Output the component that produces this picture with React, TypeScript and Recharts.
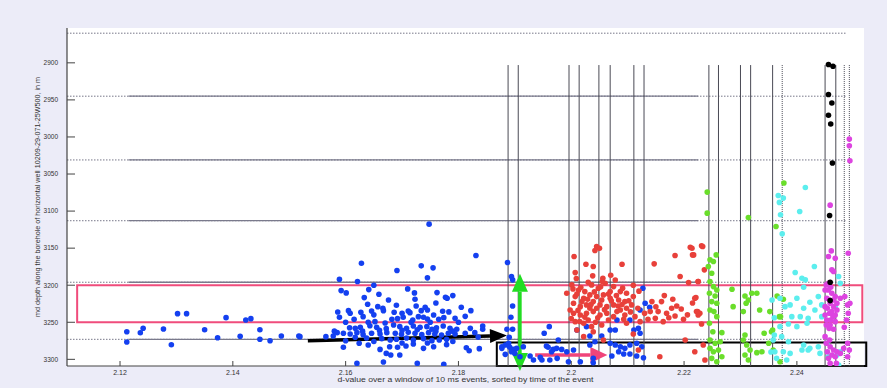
import React from "react";
import {
  ScatterChart,
  Scatter,
  XAxis,
  YAxis,
  CartesianGrid,
  ReferenceLine,
  ReferenceArea,
  Label,
} from "recharts";

// x = d-value, y = md depth (m)
const BLUE: Array<[number, number]> = [
  [2.1212, 3262.7], [2.1212, 3276.6], [2.1236, 3264.1], [2.1241, 3258.1], [2.1277, 3259.1],
  [2.1291, 3280.3], [2.1302, 3238.4], [2.1318, 3238.4], [2.135, 3260], [2.1373, 3270.8],
  [2.1388, 3243.8], [2.1413, 3268.9], [2.1423, 3246.9], [2.1432, 3245.1], [2.1448, 3260],
  [2.1448, 3273], [2.1466, 3274.9], [2.1486, 3268.5], [2.1517, 3268.5],
  [2.1748, 3117.6], [2.1831, 3160], [2.1628, 3170.3], [2.1691, 3180.2], [2.1734, 3173.9],
  [2.1755, 3176.6], [2.1745, 3190.1], [2.1589, 3192], [2.1621, 3195.1], [2.1887, 3169.4],
  [2.1592, 3207.3], [2.1601, 3210.4], [2.1641, 3205.9], [2.1659, 3212.2], [2.1633, 3216.7],
  [2.1676, 3219.9], [2.1722, 3210.4], [2.1723, 3219], [2.1777, 3216.3], [2.178, 3217.6],
  [2.179, 3214], [2.1639, 3225.7], [2.1657, 3228.9], [2.1666, 3231.1], [2.1667, 3234.3],
  [2.1586, 3236.1], [2.1605, 3234.3], [2.1608, 3237.9], [2.1627, 3236.5], [2.1646, 3234.7],
  [2.1686, 3236.5], [2.1711, 3234.7], [2.1714, 3237], [2.1734, 3234.3], [2.1741, 3229.8],
  [2.1745, 3233.4], [2.1756, 3240.2], [2.1772, 3235.2], [2.1805, 3229.8], [2.1822, 3234.3],
  [2.1589, 3243.3], [2.1631, 3242.4], [2.164, 3250.1], [2.1652, 3249.2], [2.1682, 3246],
  [2.1692, 3245.1], [2.1702, 3243.3], [2.1719, 3246.9], [2.1729, 3242.4], [2.1738, 3243.3],
  [2.1745, 3245.6], [2.1774, 3243.8], [2.1794, 3244.7], [2.1607, 3257.3], [2.1617, 3258.2],
  [2.1626, 3256.8], [2.1643, 3254.6], [2.1655, 3256.8], [2.1672, 3258.6], [2.1685, 3253.7],
  [2.1696, 3255.9], [2.1708, 3258.2], [2.172, 3255], [2.1732, 3256.8], [2.1744, 3255.9],
  [2.1753, 3259.5], [2.1761, 3257.3], [2.1773, 3255], [2.1785, 3258.2], [2.1797, 3259.5],
  [2.1821, 3258.2], [2.1843, 3255], [2.1843, 3259.5], [2.1585, 3264], [2.1596, 3264.9],
  [2.1608, 3265.8], [2.162, 3264], [2.1631, 3266.7], [2.1646, 3264.9], [2.1661, 3265.8],
  [2.1673, 3264], [2.1688, 3264.9], [2.1699, 3266.3], [2.1711, 3263.6], [2.1723, 3264.9],
  [2.1735, 3266.7], [2.1747, 3264], [2.1758, 3265.8], [2.177, 3267.2], [2.1782, 3264.9],
  [2.1794, 3265.8], [2.1812, 3264.9], [2.1829, 3264], [2.1565, 3269.4], [2.1578, 3268.5],
  [2.1617, 3270.3], [2.1637, 3271.2], [2.1664, 3272.1], [2.1679, 3273.9], [2.169, 3273],
  [2.1708, 3271.2], [2.172, 3273.9], [2.1738, 3272.1], [2.1753, 3274.8], [2.1766, 3273.9],
  [2.1779, 3273], [2.1596, 3283.8], [2.1624, 3278.4], [2.164, 3280.7], [2.1661, 3286.6],
  [2.1678, 3283], [2.1692, 3283.8], [2.1707, 3282], [2.172, 3279.3], [2.1738, 3285.2],
  [2.1756, 3283], [2.1779, 3280.2], [2.1814, 3284.3], [2.1819, 3288.4], [2.1837, 3285.6],
  [2.1672, 3292], [2.168, 3294.2], [2.1696, 3294.2], [2.1667, 3303.7], [2.162, 3305.5],
  [2.1727, 3305.5], [2.1774, 3306.8], [2.1519, 3269.4], [2.1877, 3285.2], [2.1883, 3293.3],
  [2.1889, 3278.4],
  [2.16, 3250], [2.1615, 3246], [2.165, 3240], [2.167, 3251], [2.17, 3238],
  [2.1716, 3250], [2.1725, 3228], [2.175, 3250], [2.1765, 3246], [2.1783, 3236],
  [2.18, 3250], [2.1812, 3242], [2.163, 3262], [2.166, 3261], [2.17, 3261],
  [2.1727, 3260], [2.176, 3262], [2.179, 3262], [2.1835, 3270], [2.165, 3276],
  [2.17, 3278], [2.1745, 3278], [2.179, 3276], [2.16, 3275], [2.158, 3262],
  [2.169, 3227], [2.176, 3224], [2.171, 3205], [2.165, 3200], [2.1762, 3210],
  [2.1894, 3188.3], [2.1896, 3192.8], [2.1896, 3228], [2.1893, 3243.3], [2.1886, 3259.5],
  [2.1896, 3259.5], [2.189, 3270.3], [2.1877, 3283], [2.1883, 3280.7], [2.1891, 3283.8],
  [2.1897, 3286.6], [2.1903, 3285.2], [2.1894, 3289.7], [2.19, 3292], [2.1915, 3283],
  [2.1961, 3255.9], [2.1952, 3264.9], [2.1977, 3273.9], [2.1959, 3283.8], [2.1968, 3286.6],
  [2.1983, 3286.6], [2.1992, 3289.7], [2.2004, 3287.4], [2.1965, 3289.7], [2.201, 3260.4],
  [2.2027, 3255.9], [2.2042, 3276.2], [2.2033, 3280.7], [2.1909, 3296.5], [2.1927, 3295.5],
  [2.1945, 3297.4],
  [2.1956, 3282], [2.1974, 3285.2], [2.1933, 3300.9], [2.1948, 3300.9], [2.1962, 3300.9],
  [2.1975, 3298.7], [2.1995, 3303.2], [2.2016, 3303.2], [2.2039, 3304.6],
  [2.2127, 3204.1], [2.2131, 3224.4], [2.2122, 3233.4], [2.2139, 3229.8], [2.2081, 3246.9],
  [2.2104, 3246.9], [2.2069, 3260.4], [2.2078, 3260.4], [2.2119, 3258.2], [2.2033, 3268.5],
  [2.2054, 3268.5], [2.2069, 3278.4], [2.2078, 3280.7], [2.2087, 3283], [2.2095, 3285.2],
  [2.2104, 3280.7], [2.2116, 3278.4], [2.2125, 3283], [2.2084, 3289.7], [2.2093, 3292.9],
  [2.2104, 3292.9], [2.2116, 3295.6], [2.2072, 3295.6], [2.2128, 3297.8], [2.2039, 3298.7],
  [2.2122, 3264.9], [2.2111, 3260.4],
];

const RED: Array<[number, number]> = [
  [2.2045, 3147.8], [2.205, 3150.1], [2.2042, 3153.2], [2.2005, 3161.3], [2.2026, 3171.7],
  [2.2039, 3174.8], [2.209, 3171.7], [2.2147, 3171.2], [2.2184, 3160], [2.2211, 3148.7],
  [2.2231, 3146.9], [2.2215, 3159.1], [2.2007, 3183], [2.2038, 3187.4], [2.2056, 3190.6],
  [2.207, 3186.5], [2.2225, 3195.1], [2.2208, 3196.5], [2.2193, 3188.3],
  [2.2001, 3199.6], [2.2013, 3206.4], [2.2024, 3208.6], [2.2036, 3199.6], [2.2048, 3204.1],
  [2.206, 3197.4], [2.2075, 3201.9], [2.2087, 3208.6], [2.2098, 3210.9], [2.2007, 3215.4],
  [2.2022, 3217.6], [2.2033, 3213.1], [2.2045, 3215.4], [2.2057, 3213.1], [2.2069, 3217.6],
  [2.2084, 3219.9], [2.2095, 3222.1], [2.211, 3215.4], [2.2004, 3224.4], [2.2016, 3228.9],
  [2.2027, 3226.6], [2.2039, 3222.1], [2.2051, 3226.6], [2.2063, 3228.9], [2.2075, 3226.6],
  [2.2087, 3233.4], [2.2098, 3231.1], [2.2107, 3226.6], [2.2143, 3222.1], [2.216, 3222.1],
  [2.2178, 3231.1], [2.2187, 3228], [2.2004, 3237.9], [2.2016, 3240.2], [2.2027, 3237.9],
  [2.2039, 3235.6], [2.2051, 3240.2], [2.2063, 3237.9], [2.2075, 3242.4], [2.2095, 3240.2],
  [2.2113, 3242.4], [2.214, 3235.6], [2.2154, 3235.6], [2.2169, 3237.9], [2.2184, 3241.5],
  [2.2199, 3246], [2.2222, 3235.6], [2.2225, 3240.2], [2.2007, 3249.2], [2.2022, 3251.4],
  [2.2036, 3255.9], [2.2054, 3253.7], [2.2098, 3251.4], [2.2122, 3249.2], [2.2149, 3244.7],
  [2.2163, 3249.2], [2.2219, 3217.6], [2.201, 3260.4], [2.2022, 3269.4], [2.2039, 3262.7],
  [2.2057, 3273.9], [2.211, 3265.8], [2.2119, 3287.4], [2.2157, 3296.5], [2.2202, 3273.9],
  [2.1992, 3210.9], [2.1998, 3233.4], [2.2033, 3231.1], [2.2045, 3231.1], [2.2019, 3222.1],
  [2.2069, 3208.6], [2.2054, 3219.9], [2.203, 3246.9], [2.2081, 3235.6],
  [2.2003, 3205], [2.201, 3212], [2.2017, 3203], [2.2029, 3219], [2.2041, 3209],
  [2.2052, 3202], [2.2066, 3212], [2.208, 3214], [2.2091, 3204], [2.2102, 3221],
  [2.2012, 3234], [2.2024, 3243], [2.2035, 3226], [2.2047, 3244], [2.2059, 3233],
  [2.2071, 3221], [2.2083, 3228], [2.2093, 3246], [2.2105, 3236], [2.2118, 3231],
  [2.2, 3245], [2.2015, 3249], [2.2043, 3250], [2.2066, 3247], [2.209, 3226],
  [2.213, 3238], [2.2136, 3246], [2.215, 3229], [2.2173, 3244], [2.2195, 3232],
  [2.2206, 3240], [2.2165, 3214], [2.212, 3208], [2.2055, 3195], [2.203, 3196],
  [2.2078, 3193], [2.211, 3200], [2.2009, 3191], [2.218, 3219], [2.2215, 3224],
  [2.2214, 3150.1], [2.2217, 3159.1], [2.2233, 3147.8], [2.2236, 3179.3], [2.2225, 3195.1],
  [2.2221, 3216.7], [2.2224, 3235.6], [2.2228, 3237.9], [2.2231, 3252.3], [2.2234, 3280.7],
  [2.2219, 3289.7], [2.2237, 3301],
];

const GREEN: Array<[number, number]> = [
  [2.2241, 3074.4], [2.2241, 3102.8], [2.2314, 3108.6], [2.2257, 3159.1], [2.2246, 3165.8],
  [2.2252, 3168.1], [2.2243, 3174.8], [2.2249, 3183.8], [2.2246, 3195.1], [2.2252, 3201.9],
  [2.2258, 3206.4], [2.2245, 3210.9], [2.2255, 3214.5], [2.2249, 3222.1], [2.2258, 3224.4],
  [2.2246, 3233.4], [2.2253, 3235.6], [2.2258, 3242.4], [2.2245, 3251.4], [2.2267, 3264],
  [2.2251, 3262.7], [2.2285, 3205.5], [2.2287, 3228.9], [2.2308, 3214.5], [2.2314, 3219.9],
  [2.231, 3224.4], [2.2305, 3235.6], [2.232, 3210.9], [2.2329, 3210.9], [2.2334, 3233.4],
  [2.2352, 3235.6], [2.2355, 3262.7], [2.2342, 3264.9], [2.2308, 3267.2], [2.2246, 3273.9],
  [2.2255, 3278.4], [2.2264, 3276.2], [2.2246, 3285.2], [2.2252, 3289.7], [2.2261, 3287.4],
  [2.2267, 3296.5], [2.2249, 3298.7], [2.2258, 3303.2], [2.2305, 3273.9], [2.2311, 3280.7],
  [2.2317, 3287.4], [2.2308, 3294.2], [2.2314, 3300.9], [2.2329, 3291], [2.2338, 3289.7],
  [2.235, 3278.4], [2.2358, 3287.4],
  [2.2377, 3062.2], [2.2363, 3120.8], [2.2365, 3214.5], [2.2376, 3218.9], [2.2369, 3242.4],
  [2.2371, 3242.4], [2.2357, 3260.4], [2.237, 3303.2],
];

const CYAN: Array<[number, number]> = [
  [2.2415, 3068.1], [2.2367, 3078.9], [2.2376, 3082.5], [2.2369, 3088.3], [2.2405, 3100.5],
  [2.2371, 3105], [2.2374, 3130.7], [2.2397, 3182.9], [2.2409, 3190.6], [2.2431, 3174.8],
  [2.2415, 3192.8], [2.2412, 3202.8], [2.237, 3217.6], [2.24, 3217.6], [2.2388, 3226.6],
  [2.2379, 3228.9], [2.2412, 3231.1], [2.2423, 3223], [2.2438, 3215.4], [2.2444, 3226.6],
  [2.2432, 3233.4], [2.2391, 3242.4], [2.2406, 3242.4], [2.242, 3244.7], [2.2444, 3242.4],
  [2.2468, 3228.9], [2.2474, 3188.3], [2.2477, 3197.4], [2.237, 3255.9], [2.2385, 3252.3],
  [2.24, 3255.9], [2.2418, 3251.4], [2.2358, 3273.9], [2.2373, 3269.4], [2.2385, 3276.2],
  [2.2412, 3280.7], [2.2423, 3285.2], [2.2438, 3283], [2.2453, 3278.4], [2.2361, 3289.7],
  [2.2376, 3289.7], [2.2388, 3292], [2.2409, 3287.4], [2.242, 3287.4], [2.2441, 3292],
  [2.2456, 3296.5], [2.2471, 3294.2], [2.2477, 3289.7], [2.2364, 3298.7], [2.2382, 3300.9],
  [2.2474, 3307.7], [2.2356, 3219.9], [2.236, 3267.2], [2.2354, 3290.2], [2.236, 3244],
];

const MAGENTA: Array<[number, number]> = [
  [2.2493, 3002.8], [2.2493, 3011.8], [2.2494, 3032], [2.2459, 3092], [2.2461, 3153.7],
  [2.2491, 3156.8], [2.2456, 3161.3], [2.2468, 3163.6], [2.2462, 3179.3], [2.2465, 3181.6],
  [2.2452, 3199.6], [2.2456, 3206.4], [2.2462, 3210.9], [2.2468, 3215.4], [2.2453, 3217.6],
  [2.2459, 3224.4], [2.2465, 3228.9], [2.2454, 3231.1], [2.2471, 3233.4], [2.2458, 3237.9],
  [2.2464, 3242.4], [2.2453, 3246.9], [2.2468, 3249.2], [2.2459, 3253.7], [2.2457, 3258.2],
  [2.2477, 3217.6], [2.2485, 3215.4], [2.249, 3226.6], [2.2491, 3237.9], [2.2488, 3246.9],
  [2.2484, 3256.8], [2.2494, 3224.4], [2.245, 3206.4], [2.246, 3202.8], [2.2465, 3219.9],
  [2.2458, 3219.9], [2.245, 3228.9], [2.2462, 3235.6], [2.245, 3240.2], [2.246, 3246.9],
  [2.2468, 3240.2], [2.2452, 3253.7], [2.2465, 3259.5], [2.2471, 3224.4], [2.2456, 3197.4],
  [2.245, 3269.4], [2.2458, 3273.9], [2.2454, 3289.7],
  [2.2452, 3278.4], [2.2459, 3283], [2.2465, 3287.4], [2.2471, 3289.7], [2.2462, 3294.2],
  [2.2456, 3298.7], [2.2468, 3296.5], [2.2477, 3292], [2.2483, 3285.2], [2.249, 3278.4],
  [2.2493, 3287.4], [2.249, 3296.5], [2.2459, 3305.5], [2.247, 3305.5],
];

const BLACK: Array<[number, number]> = [
  [2.2456, 2902.3], [2.2464, 2904.6], [2.2456, 2942.8], [2.2462, 2954.1], [2.2456, 2970.8],
  [2.246, 2982.5], [2.2463, 3035.2], [2.2458, 3105.9], [2.2459, 3196], [2.2459, 3220.8],
];

// stage boundaries (depth) and time markers (d-value)
const STAGE_DEPTHS = [2945, 3031, 3113, 3196, 3273];
const TOP_DEPTH = 2860;
const TIME_MARKS = [
  2.1888, 2.1906, 2.1996, 2.2014, 2.2049, 2.2069, 2.2111, 2.2129, 2.2244,
  2.2261, 2.23, 2.2318, 2.2357, 2.2374, 2.245, 2.2469, 2.2484, 2.2493,
];
const DOTTED_MARKS = [2.2374, 2.2484, 2.2493];

const X_TICKS = [2.12, 2.14, 2.16, 2.18, 2.2, 2.22, 2.24];
const Y_TICKS = [2900, 2950, 3000, 3050, 3100, 3150, 3200, 3250, 3300];

const X_DOMAIN: [number, number] = [2.1106, 2.2519];
const Y_DOMAIN: [number, number] = [2853, 3309];

const toPts = (a: Array<[number, number]>) => a.map(([x, y]) => ({ x, y }));

const SERIES = [
  { name: "s1", color: "#1440f0", data: toPts(BLUE) },
  { name: "s2", color: "#e8403a", data: toPts(RED) },
  { name: "s3", color: "#6ade2a", data: toPts(GREEN) },
  { name: "s4", color: "#5ceeee", data: toPts(CYAN) },
  { name: "s5", color: "#dd44e0", data: toPts(MAGENTA) },
  { name: "s6", color: "#000000", data: toPts(BLACK) },
];

const fmtX = (v: number) => String(Number(v.toFixed(2)));

const XTick = (props: any) => {
  const { x, y, payload } = props;
  return (
    <g>
      <line x1={x} x2={x} y1={y} y2={y - 5} stroke="#444" />
      <text x={x} y={y + 9} textAnchor="middle" fontSize={7} fill="#333">
        {fmtX(payload.value)}
      </text>
    </g>
  );
};

const YTick = (props: any) => {
  const { x, y, payload } = props;
  return (
    <g>
      <line x1={x} x2={x + 8} y1={y} y2={y} stroke="#444" />
      <text x={x - 9} y={y + 2.3} textAnchor="end" fontSize={6.5} fill="#333">
        {payload.value}
      </text>
    </g>
  );
};

const arrowShape =
  (color: string, width: number, headLen: number, headHalf: number, both: boolean) =>
  (p: any) => {
    const { x1, y1, x2, y2 } = p;
    if ([x1, y1, x2, y2].some((v) => typeof v !== "number" || isNaN(v))) return <g />;
    const L = Math.hypot(x2 - x1, y2 - y1);
    const ux = (x2 - x1) / L;
    const uy = (y2 - y1) / L;
    const nx = -uy;
    const ny = ux;
    const head = (tx: number, ty: number, dx: number, dy: number) => {
      const bx = tx - dx * headLen;
      const by = ty - dy * headLen;
      return `${tx},${ty} ${bx + nx * headHalf},${by + ny * headHalf} ${bx - nx * headHalf},${by - ny * headHalf}`;
    };
    const sx = both ? x1 + ux * headLen : x1;
    const sy = both ? y1 + uy * headLen : y1;
    return (
      <g>
        <line
          x1={sx}
          y1={sy}
          x2={x2 - ux * headLen}
          y2={y2 - uy * headLen}
          stroke={color}
          strokeWidth={width}
        />
        <polygon points={head(x2, y2, ux, uy)} fill={color} />
        {both && <polygon points={head(x1, y1, -ux, -uy)} fill={color} />}
      </g>
    );
  };

const dot = (color: string) => (p: any) =>
  <circle cx={p.cx} cy={p.cy} r={2.8} fill={color} />;

export default function App() {
  return (
    <div
      style={{
        position: "absolute",
        left: 0,
        top: 0,
        width: 887,
        height: 388,
        background: "#ececf8",
        fontFamily: "'Liberation Sans', Arial, sans-serif",
      }}
    >
      <ScatterChart width={887} height={388} margin={{ top: 28, right: 23, bottom: 0, left: 0 }}>
        <CartesianGrid horizontal={false} vertical={false} fill="#ffffff" stroke="none" />
        <XAxis
          type="number"
          dataKey="x"
          domain={X_DOMAIN}
          ticks={X_TICKS}
          allowDataOverflow
          height={22}
          tickSize={0}
          tickMargin={0}
          tick={<XTick />}
          axisLine={{ stroke: "#444", strokeWidth: 1.2 }}
        >
          <Label
            content={() => (
              <text
                x={465.5}
                y={382}
                textAnchor="middle"
                fontSize={7}
                fill="#333"
                textLength={256}
                lengthAdjust="spacingAndGlyphs"
              >
                d-value over a window of 10 ms events, sorted by time of the event
              </text>
            )}
          />
        </XAxis>
        <YAxis
          type="number"
          dataKey="y"
          reversed
          domain={Y_DOMAIN}
          ticks={Y_TICKS}
          allowDataOverflow
          width={67}
          tickSize={0}
          tickMargin={0}
          tick={<YTick />}
          axisLine={{ stroke: "#444", strokeWidth: 1.2 }}
        >
          <Label
            content={() => (
              <text
                x={0}
                y={0}
                transform="translate(40,197) rotate(-90)"
                textAnchor="middle"
                fontSize={6.5}
                fill="#333"
                textLength={240}
                lengthAdjust="spacingAndGlyphs"
              >
                md depth along the borehole of horizontal well 10209-29-071-25W500, in m
              </text>
            )}
          />
        </YAxis>

        <ReferenceLine
          segment={[{ x: 2.1106, y: TOP_DEPTH }, { x: 2.2487, y: TOP_DEPTH }]}
          stroke="#777788"
          strokeDasharray="1.5 1.5"
          ifOverflow="visible"
        />
        {STAGE_DEPTHS.map((d) => (
          <ReferenceLine
            key={`hd-${d}`}
            segment={[{ x: 2.1106, y: d }, { x: 2.2487, y: d }]}
            stroke="#777788"
            strokeDasharray="1.5 1.5"
          />
        ))}
        {STAGE_DEPTHS.map((d) => (
          <ReferenceLine
            key={`hs-${d}`}
            segment={[{ x: 2.1215, y: d }, { x: 2.2225, y: d }]}
            stroke="#7a7a8c"
            strokeWidth={1.3}
          />
        ))}
        {TIME_MARKS.map((t) => (
          <ReferenceLine
            key={`v-${t}`}
            segment={[{ x: t, y: 2903 }, { x: t, y: 3309 }]}
            stroke="#4a4a55"
            strokeDasharray={DOTTED_MARKS.includes(t) ? "1 1" : undefined}
          />
        ))}

        {SERIES.map((s) => (
          <Scatter
            key={s.name}
            name={s.name}
            data={s.data}
            fill={s.color}
            shape={dot(s.color)}
            isAnimationActive={false}
          />
        ))}

        <ReferenceArea
          x1={2.1124}
          x2={2.2516}
          y1={3200}
          y2={3250}
          fill="none"
          fillOpacity={0}
          stroke="#f04c7c"
          strokeWidth={2}
          ifOverflow="visible"
        />
        <ReferenceArea
          x1={2.1868}
          x2={2.2523}
          y1={3277.3}
          y2={3309}
          fill="none"
          fillOpacity={0}
          stroke="#000"
          strokeWidth={2}
          ifOverflow="visible"
        />

        <ReferenceLine
          segment={[{ x: 2.1533, y: 3274.9 }, { x: 2.1886, y: 3267.8 }]}
          ifOverflow="visible"
          shape={arrowShape("#000", 3.5, 17, 7, false)}
        />
        <ReferenceLine
          segment={[{ x: 2.1909, y: 3184.7 }, { x: 2.1909, y: 3315.8 }]}
          ifOverflow="visible"
          shape={arrowShape("#22dd22", 3.5, 18, 8, true)}
        />
        <ReferenceLine
          segment={[{ x: 2.1936, y: 3294 }, { x: 2.2064, y: 3294 }]}
          ifOverflow="visible"
          shape={arrowShape("#f0447a", 3.5, 17, 8, false)}
        />
      </ScatterChart>
    </div>
  );
}
